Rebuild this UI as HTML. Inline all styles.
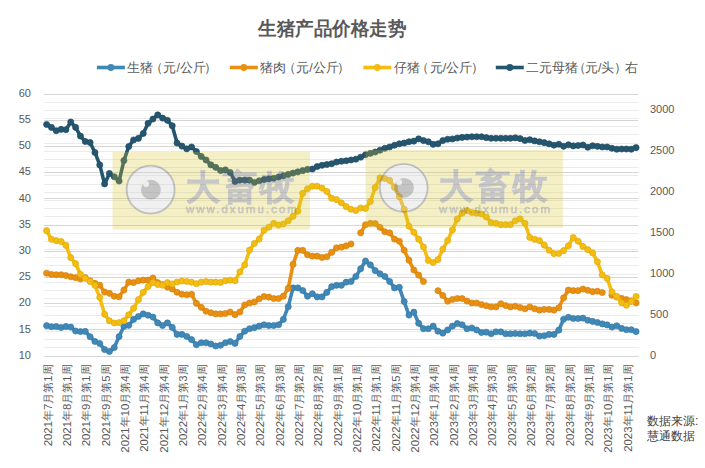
<!DOCTYPE html>
<html><head><meta charset="utf-8"><style>
html,body{margin:0;padding:0;background:#fff;width:705px;height:468px;overflow:hidden;position:relative}
svg text{font-family:"Liberation Sans", sans-serif}
</style></head><body>
<svg width="705" height="468" viewBox="0 0 705 468" style="position:absolute;left:0;top:0"><line x1="44.2" x2="638.5" y1="356.50" y2="356.50" stroke="#ebebeb" stroke-width="1"/><line x1="44.2" x2="638.5" y1="347.50" y2="347.50" stroke="#ebebeb" stroke-width="1"/><line x1="44.2" x2="638.5" y1="339.50" y2="339.50" stroke="#ebebeb" stroke-width="1"/><line x1="44.2" x2="638.5" y1="331.50" y2="331.50" stroke="#ebebeb" stroke-width="1"/><line x1="44.2" x2="638.5" y1="323.50" y2="323.50" stroke="#ebebeb" stroke-width="1"/><line x1="44.2" x2="638.5" y1="315.50" y2="315.50" stroke="#ebebeb" stroke-width="1"/><line x1="44.2" x2="638.5" y1="306.50" y2="306.50" stroke="#ebebeb" stroke-width="1"/><line x1="44.2" x2="638.5" y1="298.50" y2="298.50" stroke="#ebebeb" stroke-width="1"/><line x1="44.2" x2="638.5" y1="290.50" y2="290.50" stroke="#ebebeb" stroke-width="1"/><line x1="44.2" x2="638.5" y1="282.50" y2="282.50" stroke="#ebebeb" stroke-width="1"/><line x1="44.2" x2="638.5" y1="274.50" y2="274.50" stroke="#ebebeb" stroke-width="1"/><line x1="44.2" x2="638.5" y1="265.50" y2="265.50" stroke="#ebebeb" stroke-width="1"/><line x1="44.2" x2="638.5" y1="257.50" y2="257.50" stroke="#ebebeb" stroke-width="1"/><line x1="44.2" x2="638.5" y1="249.50" y2="249.50" stroke="#ebebeb" stroke-width="1"/><line x1="44.2" x2="638.5" y1="241.50" y2="241.50" stroke="#ebebeb" stroke-width="1"/><line x1="44.2" x2="638.5" y1="233.50" y2="233.50" stroke="#ebebeb" stroke-width="1"/><line x1="44.2" x2="638.5" y1="225.50" y2="225.50" stroke="#ebebeb" stroke-width="1"/><line x1="44.2" x2="638.5" y1="216.50" y2="216.50" stroke="#ebebeb" stroke-width="1"/><line x1="44.2" x2="638.5" y1="208.50" y2="208.50" stroke="#ebebeb" stroke-width="1"/><line x1="44.2" x2="638.5" y1="200.50" y2="200.50" stroke="#ebebeb" stroke-width="1"/><line x1="44.2" x2="638.5" y1="192.50" y2="192.50" stroke="#ebebeb" stroke-width="1"/><line x1="44.2" x2="638.5" y1="184.50" y2="184.50" stroke="#ebebeb" stroke-width="1"/><line x1="44.2" x2="638.5" y1="175.50" y2="175.50" stroke="#ebebeb" stroke-width="1"/><line x1="44.2" x2="638.5" y1="167.50" y2="167.50" stroke="#ebebeb" stroke-width="1"/><line x1="44.2" x2="638.5" y1="159.50" y2="159.50" stroke="#ebebeb" stroke-width="1"/><line x1="44.2" x2="638.5" y1="151.50" y2="151.50" stroke="#ebebeb" stroke-width="1"/><line x1="44.2" x2="638.5" y1="143.50" y2="143.50" stroke="#ebebeb" stroke-width="1"/><line x1="44.2" x2="638.5" y1="134.50" y2="134.50" stroke="#ebebeb" stroke-width="1"/><line x1="44.2" x2="638.5" y1="126.50" y2="126.50" stroke="#ebebeb" stroke-width="1"/><line x1="44.2" x2="638.5" y1="118.50" y2="118.50" stroke="#ebebeb" stroke-width="1"/><line x1="44.2" x2="638.5" y1="110.50" y2="110.50" stroke="#ebebeb" stroke-width="1"/><line x1="44.2" x2="638.5" y1="102.50" y2="102.50" stroke="#ebebeb" stroke-width="1"/><line x1="44.2" x2="638.5" y1="94.50" y2="94.50" stroke="#ebebeb" stroke-width="1"/><line x1="44.2" x2="638.5" y1="356.50" y2="356.50" stroke="#d6d6d6" stroke-width="1"/><line x1="44.2" x2="638.5" y1="329.50" y2="329.50" stroke="#d6d6d6" stroke-width="1"/><line x1="44.2" x2="638.5" y1="303.50" y2="303.50" stroke="#d6d6d6" stroke-width="1"/><line x1="44.2" x2="638.5" y1="277.50" y2="277.50" stroke="#d6d6d6" stroke-width="1"/><line x1="44.2" x2="638.5" y1="251.50" y2="251.50" stroke="#d6d6d6" stroke-width="1"/><line x1="44.2" x2="638.5" y1="225.50" y2="225.50" stroke="#d6d6d6" stroke-width="1"/><line x1="44.2" x2="638.5" y1="198.50" y2="198.50" stroke="#d6d6d6" stroke-width="1"/><line x1="44.2" x2="638.5" y1="172.50" y2="172.50" stroke="#d6d6d6" stroke-width="1"/><line x1="44.2" x2="638.5" y1="146.50" y2="146.50" stroke="#d6d6d6" stroke-width="1"/><line x1="44.2" x2="638.5" y1="120.50" y2="120.50" stroke="#d6d6d6" stroke-width="1"/><line x1="44.2" x2="638.5" y1="94.50" y2="94.50" stroke="#d6d6d6" stroke-width="1"/><text x="31" y="358.80" text-anchor="end" font-size="11" fill="#595959">10</text><text x="31" y="332.60" text-anchor="end" font-size="11" fill="#595959">15</text><text x="31" y="306.40" text-anchor="end" font-size="11" fill="#595959">20</text><text x="31" y="280.20" text-anchor="end" font-size="11" fill="#595959">25</text><text x="31" y="254.00" text-anchor="end" font-size="11" fill="#595959">30</text><text x="31" y="227.80" text-anchor="end" font-size="11" fill="#595959">35</text><text x="31" y="201.60" text-anchor="end" font-size="11" fill="#595959">40</text><text x="31" y="175.40" text-anchor="end" font-size="11" fill="#595959">45</text><text x="31" y="149.20" text-anchor="end" font-size="11" fill="#595959">50</text><text x="31" y="123.00" text-anchor="end" font-size="11" fill="#595959">55</text><text x="31" y="96.80" text-anchor="end" font-size="11" fill="#595959">60</text><text x="650" y="358.80" text-anchor="start" font-size="11" fill="#595959">0</text><text x="650" y="317.86" text-anchor="start" font-size="11" fill="#595959">500</text><text x="650" y="276.93" text-anchor="start" font-size="11" fill="#595959">1000</text><text x="650" y="235.99" text-anchor="start" font-size="11" fill="#595959">1500</text><text x="650" y="195.05" text-anchor="start" font-size="11" fill="#595959">2000</text><text x="650" y="154.11" text-anchor="start" font-size="11" fill="#595959">2500</text><text x="650" y="113.17" text-anchor="start" font-size="11" fill="#595959">3000</text><text transform="translate(51.82,364.3) rotate(-90)" x="0" y="0" text-anchor="end" font-size="11.4" fill="#595959">2021年7月第1周</text><text transform="translate(71.14,364.3) rotate(-90)" x="0" y="0" text-anchor="end" font-size="11.4" fill="#595959">2021年8月第1周</text><text transform="translate(90.47,364.3) rotate(-90)" x="0" y="0" text-anchor="end" font-size="11.4" fill="#595959">2021年9月第1周</text><text transform="translate(109.80,364.3) rotate(-90)" x="0" y="0" text-anchor="end" font-size="11.4" fill="#595959">2021年9月第5周</text><text transform="translate(129.12,364.3) rotate(-90)" x="0" y="0" text-anchor="end" font-size="11.4" fill="#595959">2021年10月第4周</text><text transform="translate(148.45,364.3) rotate(-90)" x="0" y="0" text-anchor="end" font-size="11.4" fill="#595959">2021年11月第4周</text><text transform="translate(167.78,364.3) rotate(-90)" x="0" y="0" text-anchor="end" font-size="11.4" fill="#595959">2021年12月第4周</text><text transform="translate(187.10,364.3) rotate(-90)" x="0" y="0" text-anchor="end" font-size="11.4" fill="#595959">2022年1月第3周</text><text transform="translate(206.43,364.3) rotate(-90)" x="0" y="0" text-anchor="end" font-size="11.4" fill="#595959">2022年2月第4周</text><text transform="translate(225.76,364.3) rotate(-90)" x="0" y="0" text-anchor="end" font-size="11.4" fill="#595959">2022年3月第4周</text><text transform="translate(245.08,364.3) rotate(-90)" x="0" y="0" text-anchor="end" font-size="11.4" fill="#595959">2022年4月第3周</text><text transform="translate(264.41,364.3) rotate(-90)" x="0" y="0" text-anchor="end" font-size="11.4" fill="#595959">2022年5月第3周</text><text transform="translate(283.74,364.3) rotate(-90)" x="0" y="0" text-anchor="end" font-size="11.4" fill="#595959">2022年6月第3周</text><text transform="translate(303.06,364.3) rotate(-90)" x="0" y="0" text-anchor="end" font-size="11.4" fill="#595959">2022年7月第2周</text><text transform="translate(322.39,364.3) rotate(-90)" x="0" y="0" text-anchor="end" font-size="11.4" fill="#595959">2022年8月第2周</text><text transform="translate(341.72,364.3) rotate(-90)" x="0" y="0" text-anchor="end" font-size="11.4" fill="#595959">2022年9月第1周</text><text transform="translate(361.05,364.3) rotate(-90)" x="0" y="0" text-anchor="end" font-size="11.4" fill="#595959">2022年10月第1周</text><text transform="translate(380.37,364.3) rotate(-90)" x="0" y="0" text-anchor="end" font-size="11.4" fill="#595959">2022年11月第1周</text><text transform="translate(399.70,364.3) rotate(-90)" x="0" y="0" text-anchor="end" font-size="11.4" fill="#595959">2022年11月第5周</text><text transform="translate(419.03,364.3) rotate(-90)" x="0" y="0" text-anchor="end" font-size="11.4" fill="#595959">2022年12月第4周</text><text transform="translate(438.35,364.3) rotate(-90)" x="0" y="0" text-anchor="end" font-size="11.4" fill="#595959">2023年1月第4周</text><text transform="translate(457.68,364.3) rotate(-90)" x="0" y="0" text-anchor="end" font-size="11.4" fill="#595959">2023年2月第4周</text><text transform="translate(477.01,364.3) rotate(-90)" x="0" y="0" text-anchor="end" font-size="11.4" fill="#595959">2023年3月第4周</text><text transform="translate(496.33,364.3) rotate(-90)" x="0" y="0" text-anchor="end" font-size="11.4" fill="#595959">2023年4月第3周</text><text transform="translate(515.66,364.3) rotate(-90)" x="0" y="0" text-anchor="end" font-size="11.4" fill="#595959">2023年5月第3周</text><text transform="translate(534.99,364.3) rotate(-90)" x="0" y="0" text-anchor="end" font-size="11.4" fill="#595959">2023年6月第2周</text><text transform="translate(554.31,364.3) rotate(-90)" x="0" y="0" text-anchor="end" font-size="11.4" fill="#595959">2023年7月第2周</text><text transform="translate(573.64,364.3) rotate(-90)" x="0" y="0" text-anchor="end" font-size="11.4" fill="#595959">2023年8月第2周</text><text transform="translate(592.97,364.3) rotate(-90)" x="0" y="0" text-anchor="end" font-size="11.4" fill="#595959">2023年9月第1周</text><text transform="translate(612.29,364.3) rotate(-90)" x="0" y="0" text-anchor="end" font-size="11.4" fill="#595959">2023年10月第1周</text><text transform="translate(631.62,364.3) rotate(-90)" x="0" y="0" text-anchor="end" font-size="11.4" fill="#595959">2023年11月第1周</text><polyline points="46.62,325.64 51.45,326.74 56.28,326.53 61.11,327.52 65.94,326.53 70.77,327.10 75.61,331.03 80.44,331.61 85.27,331.40 90.10,336.69 94.93,341.46 99.76,343.50 104.60,349.58 109.43,351.52 114.26,347.59 119.09,336.59 123.92,326.37 128.75,325.37 133.59,319.40 138.42,316.52 143.25,313.90 148.08,315.21 152.91,317.10 157.75,322.91 162.58,325.53 167.41,322.91 172.24,327.42 177.07,334.39 181.90,334.39 186.74,336.43 191.57,339.63 196.40,344.71 201.23,342.82 206.06,342.82 210.89,344.03 215.73,346.02 220.56,345.29 225.39,342.82 230.22,341.51 235.05,343.40 239.88,336.43 244.72,331.19 249.55,328.73 254.38,327.63 259.21,326.11 264.04,324.80 268.87,325.53 273.71,325.53 278.54,324.80 283.37,319.40 288.20,306.72 293.03,287.91 297.86,287.91 302.70,290.53 307.53,296.24 312.36,293.72 317.19,296.92 322.02,296.92 326.85,292.41 331.69,286.65 336.52,285.34 341.35,285.34 346.18,282.14 351.01,281.52 355.85,276.43 360.68,268.73 365.51,261.03 370.34,264.85 375.17,270.62 380.00,273.81 384.84,276.43 389.67,281.52 394.50,287.91 399.33,287.33 404.16,301.58 408.99,315.10 413.83,312.17 418.66,323.33 423.49,328.73 428.32,328.73 433.15,326.11 437.98,331.19 442.82,333.13 447.65,329.93 452.48,326.11 457.31,323.49 462.14,324.80 466.97,328.73 471.81,327.99 476.64,329.93 481.47,332.50 486.30,332.19 491.13,333.81 495.96,331.87 500.80,331.87 505.63,333.81 510.46,333.81 515.29,333.50 520.12,333.81 524.95,333.81 529.79,333.13 534.62,333.50 539.45,336.06 544.28,335.70 549.11,334.39 553.95,334.39 558.78,330.14 563.61,319.30 568.44,317.30 573.27,318.51 578.10,318.51 582.94,318.14 587.77,320.29 592.60,321.39 597.43,322.44 602.26,323.91 607.09,324.90 611.93,327.10 616.76,325.79 621.59,328.41 626.42,329.72 631.25,329.72 636.08,331.61" fill="none" stroke="#3f88b8" stroke-width="3.6" stroke-linejoin="round" stroke-linecap="round"/><circle cx="46.62" cy="325.64" r="3.05" fill="#3f88b8" stroke="#387aa5" stroke-width="0.7"/><circle cx="51.45" cy="326.74" r="3.05" fill="#3f88b8" stroke="#387aa5" stroke-width="0.7"/><circle cx="56.28" cy="326.53" r="3.05" fill="#3f88b8" stroke="#387aa5" stroke-width="0.7"/><circle cx="61.11" cy="327.52" r="3.05" fill="#3f88b8" stroke="#387aa5" stroke-width="0.7"/><circle cx="65.94" cy="326.53" r="3.05" fill="#3f88b8" stroke="#387aa5" stroke-width="0.7"/><circle cx="70.77" cy="327.10" r="3.05" fill="#3f88b8" stroke="#387aa5" stroke-width="0.7"/><circle cx="75.61" cy="331.03" r="3.05" fill="#3f88b8" stroke="#387aa5" stroke-width="0.7"/><circle cx="80.44" cy="331.61" r="3.05" fill="#3f88b8" stroke="#387aa5" stroke-width="0.7"/><circle cx="85.27" cy="331.40" r="3.05" fill="#3f88b8" stroke="#387aa5" stroke-width="0.7"/><circle cx="90.10" cy="336.69" r="3.05" fill="#3f88b8" stroke="#387aa5" stroke-width="0.7"/><circle cx="94.93" cy="341.46" r="3.05" fill="#3f88b8" stroke="#387aa5" stroke-width="0.7"/><circle cx="99.76" cy="343.50" r="3.05" fill="#3f88b8" stroke="#387aa5" stroke-width="0.7"/><circle cx="104.60" cy="349.58" r="3.05" fill="#3f88b8" stroke="#387aa5" stroke-width="0.7"/><circle cx="109.43" cy="351.52" r="3.05" fill="#3f88b8" stroke="#387aa5" stroke-width="0.7"/><circle cx="114.26" cy="347.59" r="3.05" fill="#3f88b8" stroke="#387aa5" stroke-width="0.7"/><circle cx="119.09" cy="336.59" r="3.05" fill="#3f88b8" stroke="#387aa5" stroke-width="0.7"/><circle cx="123.92" cy="326.37" r="3.05" fill="#3f88b8" stroke="#387aa5" stroke-width="0.7"/><circle cx="128.75" cy="325.37" r="3.05" fill="#3f88b8" stroke="#387aa5" stroke-width="0.7"/><circle cx="133.59" cy="319.40" r="3.05" fill="#3f88b8" stroke="#387aa5" stroke-width="0.7"/><circle cx="138.42" cy="316.52" r="3.05" fill="#3f88b8" stroke="#387aa5" stroke-width="0.7"/><circle cx="143.25" cy="313.90" r="3.05" fill="#3f88b8" stroke="#387aa5" stroke-width="0.7"/><circle cx="148.08" cy="315.21" r="3.05" fill="#3f88b8" stroke="#387aa5" stroke-width="0.7"/><circle cx="152.91" cy="317.10" r="3.05" fill="#3f88b8" stroke="#387aa5" stroke-width="0.7"/><circle cx="157.75" cy="322.91" r="3.05" fill="#3f88b8" stroke="#387aa5" stroke-width="0.7"/><circle cx="162.58" cy="325.53" r="3.05" fill="#3f88b8" stroke="#387aa5" stroke-width="0.7"/><circle cx="167.41" cy="322.91" r="3.05" fill="#3f88b8" stroke="#387aa5" stroke-width="0.7"/><circle cx="172.24" cy="327.42" r="3.05" fill="#3f88b8" stroke="#387aa5" stroke-width="0.7"/><circle cx="177.07" cy="334.39" r="3.05" fill="#3f88b8" stroke="#387aa5" stroke-width="0.7"/><circle cx="181.90" cy="334.39" r="3.05" fill="#3f88b8" stroke="#387aa5" stroke-width="0.7"/><circle cx="186.74" cy="336.43" r="3.05" fill="#3f88b8" stroke="#387aa5" stroke-width="0.7"/><circle cx="191.57" cy="339.63" r="3.05" fill="#3f88b8" stroke="#387aa5" stroke-width="0.7"/><circle cx="196.40" cy="344.71" r="3.05" fill="#3f88b8" stroke="#387aa5" stroke-width="0.7"/><circle cx="201.23" cy="342.82" r="3.05" fill="#3f88b8" stroke="#387aa5" stroke-width="0.7"/><circle cx="206.06" cy="342.82" r="3.05" fill="#3f88b8" stroke="#387aa5" stroke-width="0.7"/><circle cx="210.89" cy="344.03" r="3.05" fill="#3f88b8" stroke="#387aa5" stroke-width="0.7"/><circle cx="215.73" cy="346.02" r="3.05" fill="#3f88b8" stroke="#387aa5" stroke-width="0.7"/><circle cx="220.56" cy="345.29" r="3.05" fill="#3f88b8" stroke="#387aa5" stroke-width="0.7"/><circle cx="225.39" cy="342.82" r="3.05" fill="#3f88b8" stroke="#387aa5" stroke-width="0.7"/><circle cx="230.22" cy="341.51" r="3.05" fill="#3f88b8" stroke="#387aa5" stroke-width="0.7"/><circle cx="235.05" cy="343.40" r="3.05" fill="#3f88b8" stroke="#387aa5" stroke-width="0.7"/><circle cx="239.88" cy="336.43" r="3.05" fill="#3f88b8" stroke="#387aa5" stroke-width="0.7"/><circle cx="244.72" cy="331.19" r="3.05" fill="#3f88b8" stroke="#387aa5" stroke-width="0.7"/><circle cx="249.55" cy="328.73" r="3.05" fill="#3f88b8" stroke="#387aa5" stroke-width="0.7"/><circle cx="254.38" cy="327.63" r="3.05" fill="#3f88b8" stroke="#387aa5" stroke-width="0.7"/><circle cx="259.21" cy="326.11" r="3.05" fill="#3f88b8" stroke="#387aa5" stroke-width="0.7"/><circle cx="264.04" cy="324.80" r="3.05" fill="#3f88b8" stroke="#387aa5" stroke-width="0.7"/><circle cx="268.87" cy="325.53" r="3.05" fill="#3f88b8" stroke="#387aa5" stroke-width="0.7"/><circle cx="273.71" cy="325.53" r="3.05" fill="#3f88b8" stroke="#387aa5" stroke-width="0.7"/><circle cx="278.54" cy="324.80" r="3.05" fill="#3f88b8" stroke="#387aa5" stroke-width="0.7"/><circle cx="283.37" cy="319.40" r="3.05" fill="#3f88b8" stroke="#387aa5" stroke-width="0.7"/><circle cx="288.20" cy="306.72" r="3.05" fill="#3f88b8" stroke="#387aa5" stroke-width="0.7"/><circle cx="293.03" cy="287.91" r="3.05" fill="#3f88b8" stroke="#387aa5" stroke-width="0.7"/><circle cx="297.86" cy="287.91" r="3.05" fill="#3f88b8" stroke="#387aa5" stroke-width="0.7"/><circle cx="302.70" cy="290.53" r="3.05" fill="#3f88b8" stroke="#387aa5" stroke-width="0.7"/><circle cx="307.53" cy="296.24" r="3.05" fill="#3f88b8" stroke="#387aa5" stroke-width="0.7"/><circle cx="312.36" cy="293.72" r="3.05" fill="#3f88b8" stroke="#387aa5" stroke-width="0.7"/><circle cx="317.19" cy="296.92" r="3.05" fill="#3f88b8" stroke="#387aa5" stroke-width="0.7"/><circle cx="322.02" cy="296.92" r="3.05" fill="#3f88b8" stroke="#387aa5" stroke-width="0.7"/><circle cx="326.85" cy="292.41" r="3.05" fill="#3f88b8" stroke="#387aa5" stroke-width="0.7"/><circle cx="331.69" cy="286.65" r="3.05" fill="#3f88b8" stroke="#387aa5" stroke-width="0.7"/><circle cx="336.52" cy="285.34" r="3.05" fill="#3f88b8" stroke="#387aa5" stroke-width="0.7"/><circle cx="341.35" cy="285.34" r="3.05" fill="#3f88b8" stroke="#387aa5" stroke-width="0.7"/><circle cx="346.18" cy="282.14" r="3.05" fill="#3f88b8" stroke="#387aa5" stroke-width="0.7"/><circle cx="351.01" cy="281.52" r="3.05" fill="#3f88b8" stroke="#387aa5" stroke-width="0.7"/><circle cx="355.85" cy="276.43" r="3.05" fill="#3f88b8" stroke="#387aa5" stroke-width="0.7"/><circle cx="360.68" cy="268.73" r="3.05" fill="#3f88b8" stroke="#387aa5" stroke-width="0.7"/><circle cx="365.51" cy="261.03" r="3.05" fill="#3f88b8" stroke="#387aa5" stroke-width="0.7"/><circle cx="370.34" cy="264.85" r="3.05" fill="#3f88b8" stroke="#387aa5" stroke-width="0.7"/><circle cx="375.17" cy="270.62" r="3.05" fill="#3f88b8" stroke="#387aa5" stroke-width="0.7"/><circle cx="380.00" cy="273.81" r="3.05" fill="#3f88b8" stroke="#387aa5" stroke-width="0.7"/><circle cx="384.84" cy="276.43" r="3.05" fill="#3f88b8" stroke="#387aa5" stroke-width="0.7"/><circle cx="389.67" cy="281.52" r="3.05" fill="#3f88b8" stroke="#387aa5" stroke-width="0.7"/><circle cx="394.50" cy="287.91" r="3.05" fill="#3f88b8" stroke="#387aa5" stroke-width="0.7"/><circle cx="399.33" cy="287.33" r="3.05" fill="#3f88b8" stroke="#387aa5" stroke-width="0.7"/><circle cx="404.16" cy="301.58" r="3.05" fill="#3f88b8" stroke="#387aa5" stroke-width="0.7"/><circle cx="408.99" cy="315.10" r="3.05" fill="#3f88b8" stroke="#387aa5" stroke-width="0.7"/><circle cx="413.83" cy="312.17" r="3.05" fill="#3f88b8" stroke="#387aa5" stroke-width="0.7"/><circle cx="418.66" cy="323.33" r="3.05" fill="#3f88b8" stroke="#387aa5" stroke-width="0.7"/><circle cx="423.49" cy="328.73" r="3.05" fill="#3f88b8" stroke="#387aa5" stroke-width="0.7"/><circle cx="428.32" cy="328.73" r="3.05" fill="#3f88b8" stroke="#387aa5" stroke-width="0.7"/><circle cx="433.15" cy="326.11" r="3.05" fill="#3f88b8" stroke="#387aa5" stroke-width="0.7"/><circle cx="437.98" cy="331.19" r="3.05" fill="#3f88b8" stroke="#387aa5" stroke-width="0.7"/><circle cx="442.82" cy="333.13" r="3.05" fill="#3f88b8" stroke="#387aa5" stroke-width="0.7"/><circle cx="447.65" cy="329.93" r="3.05" fill="#3f88b8" stroke="#387aa5" stroke-width="0.7"/><circle cx="452.48" cy="326.11" r="3.05" fill="#3f88b8" stroke="#387aa5" stroke-width="0.7"/><circle cx="457.31" cy="323.49" r="3.05" fill="#3f88b8" stroke="#387aa5" stroke-width="0.7"/><circle cx="462.14" cy="324.80" r="3.05" fill="#3f88b8" stroke="#387aa5" stroke-width="0.7"/><circle cx="466.97" cy="328.73" r="3.05" fill="#3f88b8" stroke="#387aa5" stroke-width="0.7"/><circle cx="471.81" cy="327.99" r="3.05" fill="#3f88b8" stroke="#387aa5" stroke-width="0.7"/><circle cx="476.64" cy="329.93" r="3.05" fill="#3f88b8" stroke="#387aa5" stroke-width="0.7"/><circle cx="481.47" cy="332.50" r="3.05" fill="#3f88b8" stroke="#387aa5" stroke-width="0.7"/><circle cx="486.30" cy="332.19" r="3.05" fill="#3f88b8" stroke="#387aa5" stroke-width="0.7"/><circle cx="491.13" cy="333.81" r="3.05" fill="#3f88b8" stroke="#387aa5" stroke-width="0.7"/><circle cx="495.96" cy="331.87" r="3.05" fill="#3f88b8" stroke="#387aa5" stroke-width="0.7"/><circle cx="500.80" cy="331.87" r="3.05" fill="#3f88b8" stroke="#387aa5" stroke-width="0.7"/><circle cx="505.63" cy="333.81" r="3.05" fill="#3f88b8" stroke="#387aa5" stroke-width="0.7"/><circle cx="510.46" cy="333.81" r="3.05" fill="#3f88b8" stroke="#387aa5" stroke-width="0.7"/><circle cx="515.29" cy="333.50" r="3.05" fill="#3f88b8" stroke="#387aa5" stroke-width="0.7"/><circle cx="520.12" cy="333.81" r="3.05" fill="#3f88b8" stroke="#387aa5" stroke-width="0.7"/><circle cx="524.95" cy="333.81" r="3.05" fill="#3f88b8" stroke="#387aa5" stroke-width="0.7"/><circle cx="529.79" cy="333.13" r="3.05" fill="#3f88b8" stroke="#387aa5" stroke-width="0.7"/><circle cx="534.62" cy="333.50" r="3.05" fill="#3f88b8" stroke="#387aa5" stroke-width="0.7"/><circle cx="539.45" cy="336.06" r="3.05" fill="#3f88b8" stroke="#387aa5" stroke-width="0.7"/><circle cx="544.28" cy="335.70" r="3.05" fill="#3f88b8" stroke="#387aa5" stroke-width="0.7"/><circle cx="549.11" cy="334.39" r="3.05" fill="#3f88b8" stroke="#387aa5" stroke-width="0.7"/><circle cx="553.95" cy="334.39" r="3.05" fill="#3f88b8" stroke="#387aa5" stroke-width="0.7"/><circle cx="558.78" cy="330.14" r="3.05" fill="#3f88b8" stroke="#387aa5" stroke-width="0.7"/><circle cx="563.61" cy="319.30" r="3.05" fill="#3f88b8" stroke="#387aa5" stroke-width="0.7"/><circle cx="568.44" cy="317.30" r="3.05" fill="#3f88b8" stroke="#387aa5" stroke-width="0.7"/><circle cx="573.27" cy="318.51" r="3.05" fill="#3f88b8" stroke="#387aa5" stroke-width="0.7"/><circle cx="578.10" cy="318.51" r="3.05" fill="#3f88b8" stroke="#387aa5" stroke-width="0.7"/><circle cx="582.94" cy="318.14" r="3.05" fill="#3f88b8" stroke="#387aa5" stroke-width="0.7"/><circle cx="587.77" cy="320.29" r="3.05" fill="#3f88b8" stroke="#387aa5" stroke-width="0.7"/><circle cx="592.60" cy="321.39" r="3.05" fill="#3f88b8" stroke="#387aa5" stroke-width="0.7"/><circle cx="597.43" cy="322.44" r="3.05" fill="#3f88b8" stroke="#387aa5" stroke-width="0.7"/><circle cx="602.26" cy="323.91" r="3.05" fill="#3f88b8" stroke="#387aa5" stroke-width="0.7"/><circle cx="607.09" cy="324.90" r="3.05" fill="#3f88b8" stroke="#387aa5" stroke-width="0.7"/><circle cx="611.93" cy="327.10" r="3.05" fill="#3f88b8" stroke="#387aa5" stroke-width="0.7"/><circle cx="616.76" cy="325.79" r="3.05" fill="#3f88b8" stroke="#387aa5" stroke-width="0.7"/><circle cx="621.59" cy="328.41" r="3.05" fill="#3f88b8" stroke="#387aa5" stroke-width="0.7"/><circle cx="626.42" cy="329.72" r="3.05" fill="#3f88b8" stroke="#387aa5" stroke-width="0.7"/><circle cx="631.25" cy="329.72" r="3.05" fill="#3f88b8" stroke="#387aa5" stroke-width="0.7"/><circle cx="636.08" cy="331.61" r="3.05" fill="#3f88b8" stroke="#387aa5" stroke-width="0.7"/><polyline points="46.62,273.24 51.45,274.44 56.28,274.76 61.11,274.76 65.94,275.54 70.77,276.75 75.61,277.64 80.44,278.95 85.27,277.64 90.10,280.83 94.93,283.40 99.76,285.24 104.60,292.05 109.43,293.36 114.26,296.24 119.09,296.76 123.92,290.06 128.75,282.09 133.59,282.62 138.42,280.73 143.25,280.15 148.08,280.15 152.91,278.11 157.75,282.62 162.58,284.61 167.41,287.12 172.24,289.01 177.07,292.31 181.90,294.25 186.74,294.72 191.57,294.30 196.40,303.31 201.23,307.35 206.06,311.23 210.89,312.75 215.73,313.90 220.56,313.90 225.39,313.53 230.22,312.01 235.05,314.63 239.88,312.01 244.72,304.94 249.55,303.00 254.38,302.00 259.21,298.86 264.04,296.50 268.87,297.13 273.71,298.55 278.54,298.55 283.37,296.14 288.20,288.38 293.03,264.38 297.86,250.34 302.70,250.34 307.53,254.84 312.36,256.15 317.19,256.15 322.02,257.46 326.85,256.73 331.69,252.33 336.52,247.82 341.35,247.14 346.18,245.83 351.01,243.94" fill="none" stroke="#ea9010" stroke-width="3.6" stroke-linejoin="round" stroke-linecap="round"/><circle cx="46.62" cy="273.24" r="3.05" fill="#ea9010" stroke="#d2810e" stroke-width="0.7"/><circle cx="51.45" cy="274.44" r="3.05" fill="#ea9010" stroke="#d2810e" stroke-width="0.7"/><circle cx="56.28" cy="274.76" r="3.05" fill="#ea9010" stroke="#d2810e" stroke-width="0.7"/><circle cx="61.11" cy="274.76" r="3.05" fill="#ea9010" stroke="#d2810e" stroke-width="0.7"/><circle cx="65.94" cy="275.54" r="3.05" fill="#ea9010" stroke="#d2810e" stroke-width="0.7"/><circle cx="70.77" cy="276.75" r="3.05" fill="#ea9010" stroke="#d2810e" stroke-width="0.7"/><circle cx="75.61" cy="277.64" r="3.05" fill="#ea9010" stroke="#d2810e" stroke-width="0.7"/><circle cx="80.44" cy="278.95" r="3.05" fill="#ea9010" stroke="#d2810e" stroke-width="0.7"/><circle cx="85.27" cy="277.64" r="3.05" fill="#ea9010" stroke="#d2810e" stroke-width="0.7"/><circle cx="90.10" cy="280.83" r="3.05" fill="#ea9010" stroke="#d2810e" stroke-width="0.7"/><circle cx="94.93" cy="283.40" r="3.05" fill="#ea9010" stroke="#d2810e" stroke-width="0.7"/><circle cx="99.76" cy="285.24" r="3.05" fill="#ea9010" stroke="#d2810e" stroke-width="0.7"/><circle cx="104.60" cy="292.05" r="3.05" fill="#ea9010" stroke="#d2810e" stroke-width="0.7"/><circle cx="109.43" cy="293.36" r="3.05" fill="#ea9010" stroke="#d2810e" stroke-width="0.7"/><circle cx="114.26" cy="296.24" r="3.05" fill="#ea9010" stroke="#d2810e" stroke-width="0.7"/><circle cx="119.09" cy="296.76" r="3.05" fill="#ea9010" stroke="#d2810e" stroke-width="0.7"/><circle cx="123.92" cy="290.06" r="3.05" fill="#ea9010" stroke="#d2810e" stroke-width="0.7"/><circle cx="128.75" cy="282.09" r="3.05" fill="#ea9010" stroke="#d2810e" stroke-width="0.7"/><circle cx="133.59" cy="282.62" r="3.05" fill="#ea9010" stroke="#d2810e" stroke-width="0.7"/><circle cx="138.42" cy="280.73" r="3.05" fill="#ea9010" stroke="#d2810e" stroke-width="0.7"/><circle cx="143.25" cy="280.15" r="3.05" fill="#ea9010" stroke="#d2810e" stroke-width="0.7"/><circle cx="148.08" cy="280.15" r="3.05" fill="#ea9010" stroke="#d2810e" stroke-width="0.7"/><circle cx="152.91" cy="278.11" r="3.05" fill="#ea9010" stroke="#d2810e" stroke-width="0.7"/><circle cx="157.75" cy="282.62" r="3.05" fill="#ea9010" stroke="#d2810e" stroke-width="0.7"/><circle cx="162.58" cy="284.61" r="3.05" fill="#ea9010" stroke="#d2810e" stroke-width="0.7"/><circle cx="167.41" cy="287.12" r="3.05" fill="#ea9010" stroke="#d2810e" stroke-width="0.7"/><circle cx="172.24" cy="289.01" r="3.05" fill="#ea9010" stroke="#d2810e" stroke-width="0.7"/><circle cx="177.07" cy="292.31" r="3.05" fill="#ea9010" stroke="#d2810e" stroke-width="0.7"/><circle cx="181.90" cy="294.25" r="3.05" fill="#ea9010" stroke="#d2810e" stroke-width="0.7"/><circle cx="186.74" cy="294.72" r="3.05" fill="#ea9010" stroke="#d2810e" stroke-width="0.7"/><circle cx="191.57" cy="294.30" r="3.05" fill="#ea9010" stroke="#d2810e" stroke-width="0.7"/><circle cx="196.40" cy="303.31" r="3.05" fill="#ea9010" stroke="#d2810e" stroke-width="0.7"/><circle cx="201.23" cy="307.35" r="3.05" fill="#ea9010" stroke="#d2810e" stroke-width="0.7"/><circle cx="206.06" cy="311.23" r="3.05" fill="#ea9010" stroke="#d2810e" stroke-width="0.7"/><circle cx="210.89" cy="312.75" r="3.05" fill="#ea9010" stroke="#d2810e" stroke-width="0.7"/><circle cx="215.73" cy="313.90" r="3.05" fill="#ea9010" stroke="#d2810e" stroke-width="0.7"/><circle cx="220.56" cy="313.90" r="3.05" fill="#ea9010" stroke="#d2810e" stroke-width="0.7"/><circle cx="225.39" cy="313.53" r="3.05" fill="#ea9010" stroke="#d2810e" stroke-width="0.7"/><circle cx="230.22" cy="312.01" r="3.05" fill="#ea9010" stroke="#d2810e" stroke-width="0.7"/><circle cx="235.05" cy="314.63" r="3.05" fill="#ea9010" stroke="#d2810e" stroke-width="0.7"/><circle cx="239.88" cy="312.01" r="3.05" fill="#ea9010" stroke="#d2810e" stroke-width="0.7"/><circle cx="244.72" cy="304.94" r="3.05" fill="#ea9010" stroke="#d2810e" stroke-width="0.7"/><circle cx="249.55" cy="303.00" r="3.05" fill="#ea9010" stroke="#d2810e" stroke-width="0.7"/><circle cx="254.38" cy="302.00" r="3.05" fill="#ea9010" stroke="#d2810e" stroke-width="0.7"/><circle cx="259.21" cy="298.86" r="3.05" fill="#ea9010" stroke="#d2810e" stroke-width="0.7"/><circle cx="264.04" cy="296.50" r="3.05" fill="#ea9010" stroke="#d2810e" stroke-width="0.7"/><circle cx="268.87" cy="297.13" r="3.05" fill="#ea9010" stroke="#d2810e" stroke-width="0.7"/><circle cx="273.71" cy="298.55" r="3.05" fill="#ea9010" stroke="#d2810e" stroke-width="0.7"/><circle cx="278.54" cy="298.55" r="3.05" fill="#ea9010" stroke="#d2810e" stroke-width="0.7"/><circle cx="283.37" cy="296.14" r="3.05" fill="#ea9010" stroke="#d2810e" stroke-width="0.7"/><circle cx="288.20" cy="288.38" r="3.05" fill="#ea9010" stroke="#d2810e" stroke-width="0.7"/><circle cx="293.03" cy="264.38" r="3.05" fill="#ea9010" stroke="#d2810e" stroke-width="0.7"/><circle cx="297.86" cy="250.34" r="3.05" fill="#ea9010" stroke="#d2810e" stroke-width="0.7"/><circle cx="302.70" cy="250.34" r="3.05" fill="#ea9010" stroke="#d2810e" stroke-width="0.7"/><circle cx="307.53" cy="254.84" r="3.05" fill="#ea9010" stroke="#d2810e" stroke-width="0.7"/><circle cx="312.36" cy="256.15" r="3.05" fill="#ea9010" stroke="#d2810e" stroke-width="0.7"/><circle cx="317.19" cy="256.15" r="3.05" fill="#ea9010" stroke="#d2810e" stroke-width="0.7"/><circle cx="322.02" cy="257.46" r="3.05" fill="#ea9010" stroke="#d2810e" stroke-width="0.7"/><circle cx="326.85" cy="256.73" r="3.05" fill="#ea9010" stroke="#d2810e" stroke-width="0.7"/><circle cx="331.69" cy="252.33" r="3.05" fill="#ea9010" stroke="#d2810e" stroke-width="0.7"/><circle cx="336.52" cy="247.82" r="3.05" fill="#ea9010" stroke="#d2810e" stroke-width="0.7"/><circle cx="341.35" cy="247.14" r="3.05" fill="#ea9010" stroke="#d2810e" stroke-width="0.7"/><circle cx="346.18" cy="245.83" r="3.05" fill="#ea9010" stroke="#d2810e" stroke-width="0.7"/><circle cx="351.01" cy="243.94" r="3.05" fill="#ea9010" stroke="#d2810e" stroke-width="0.7"/><polyline points="360.68,232.84 365.51,224.71 370.34,223.40 375.17,223.51 380.00,227.33 384.84,231.79 389.67,232.84 394.50,239.12 399.33,241.32 404.16,250.23 408.99,260.19 413.83,270.04 418.66,275.02 423.49,281.52" fill="none" stroke="#ea9010" stroke-width="3.6" stroke-linejoin="round" stroke-linecap="round"/><circle cx="360.68" cy="232.84" r="3.05" fill="#ea9010" stroke="#d2810e" stroke-width="0.7"/><circle cx="365.51" cy="224.71" r="3.05" fill="#ea9010" stroke="#d2810e" stroke-width="0.7"/><circle cx="370.34" cy="223.40" r="3.05" fill="#ea9010" stroke="#d2810e" stroke-width="0.7"/><circle cx="375.17" cy="223.51" r="3.05" fill="#ea9010" stroke="#d2810e" stroke-width="0.7"/><circle cx="380.00" cy="227.33" r="3.05" fill="#ea9010" stroke="#d2810e" stroke-width="0.7"/><circle cx="384.84" cy="231.79" r="3.05" fill="#ea9010" stroke="#d2810e" stroke-width="0.7"/><circle cx="389.67" cy="232.84" r="3.05" fill="#ea9010" stroke="#d2810e" stroke-width="0.7"/><circle cx="394.50" cy="239.12" r="3.05" fill="#ea9010" stroke="#d2810e" stroke-width="0.7"/><circle cx="399.33" cy="241.32" r="3.05" fill="#ea9010" stroke="#d2810e" stroke-width="0.7"/><circle cx="404.16" cy="250.23" r="3.05" fill="#ea9010" stroke="#d2810e" stroke-width="0.7"/><circle cx="408.99" cy="260.19" r="3.05" fill="#ea9010" stroke="#d2810e" stroke-width="0.7"/><circle cx="413.83" cy="270.04" r="3.05" fill="#ea9010" stroke="#d2810e" stroke-width="0.7"/><circle cx="418.66" cy="275.02" r="3.05" fill="#ea9010" stroke="#d2810e" stroke-width="0.7"/><circle cx="423.49" cy="281.52" r="3.05" fill="#ea9010" stroke="#d2810e" stroke-width="0.7"/><polyline points="437.98,290.69 442.82,295.45 447.65,301.22 452.48,299.44 457.31,298.55 462.14,298.55 466.97,301.11 471.81,303.00 476.64,303.00 481.47,304.62 486.30,305.78 491.13,306.93 495.96,306.93 500.80,303.73 505.63,305.62 510.46,306.93 515.29,306.20 520.12,307.51 524.95,308.82 529.79,306.93 534.62,308.82 539.45,310.13 544.28,309.44 549.11,309.44 553.95,310.13 558.78,307.77 563.61,297.81 568.44,290.06 573.27,290.63 578.10,290.63 582.94,289.01 587.77,290.32 592.60,291.63 597.43,291.26 602.26,292.57" fill="none" stroke="#ea9010" stroke-width="3.6" stroke-linejoin="round" stroke-linecap="round"/><circle cx="437.98" cy="290.69" r="3.05" fill="#ea9010" stroke="#d2810e" stroke-width="0.7"/><circle cx="442.82" cy="295.45" r="3.05" fill="#ea9010" stroke="#d2810e" stroke-width="0.7"/><circle cx="447.65" cy="301.22" r="3.05" fill="#ea9010" stroke="#d2810e" stroke-width="0.7"/><circle cx="452.48" cy="299.44" r="3.05" fill="#ea9010" stroke="#d2810e" stroke-width="0.7"/><circle cx="457.31" cy="298.55" r="3.05" fill="#ea9010" stroke="#d2810e" stroke-width="0.7"/><circle cx="462.14" cy="298.55" r="3.05" fill="#ea9010" stroke="#d2810e" stroke-width="0.7"/><circle cx="466.97" cy="301.11" r="3.05" fill="#ea9010" stroke="#d2810e" stroke-width="0.7"/><circle cx="471.81" cy="303.00" r="3.05" fill="#ea9010" stroke="#d2810e" stroke-width="0.7"/><circle cx="476.64" cy="303.00" r="3.05" fill="#ea9010" stroke="#d2810e" stroke-width="0.7"/><circle cx="481.47" cy="304.62" r="3.05" fill="#ea9010" stroke="#d2810e" stroke-width="0.7"/><circle cx="486.30" cy="305.78" r="3.05" fill="#ea9010" stroke="#d2810e" stroke-width="0.7"/><circle cx="491.13" cy="306.93" r="3.05" fill="#ea9010" stroke="#d2810e" stroke-width="0.7"/><circle cx="495.96" cy="306.93" r="3.05" fill="#ea9010" stroke="#d2810e" stroke-width="0.7"/><circle cx="500.80" cy="303.73" r="3.05" fill="#ea9010" stroke="#d2810e" stroke-width="0.7"/><circle cx="505.63" cy="305.62" r="3.05" fill="#ea9010" stroke="#d2810e" stroke-width="0.7"/><circle cx="510.46" cy="306.93" r="3.05" fill="#ea9010" stroke="#d2810e" stroke-width="0.7"/><circle cx="515.29" cy="306.20" r="3.05" fill="#ea9010" stroke="#d2810e" stroke-width="0.7"/><circle cx="520.12" cy="307.51" r="3.05" fill="#ea9010" stroke="#d2810e" stroke-width="0.7"/><circle cx="524.95" cy="308.82" r="3.05" fill="#ea9010" stroke="#d2810e" stroke-width="0.7"/><circle cx="529.79" cy="306.93" r="3.05" fill="#ea9010" stroke="#d2810e" stroke-width="0.7"/><circle cx="534.62" cy="308.82" r="3.05" fill="#ea9010" stroke="#d2810e" stroke-width="0.7"/><circle cx="539.45" cy="310.13" r="3.05" fill="#ea9010" stroke="#d2810e" stroke-width="0.7"/><circle cx="544.28" cy="309.44" r="3.05" fill="#ea9010" stroke="#d2810e" stroke-width="0.7"/><circle cx="549.11" cy="309.44" r="3.05" fill="#ea9010" stroke="#d2810e" stroke-width="0.7"/><circle cx="553.95" cy="310.13" r="3.05" fill="#ea9010" stroke="#d2810e" stroke-width="0.7"/><circle cx="558.78" cy="307.77" r="3.05" fill="#ea9010" stroke="#d2810e" stroke-width="0.7"/><circle cx="563.61" cy="297.81" r="3.05" fill="#ea9010" stroke="#d2810e" stroke-width="0.7"/><circle cx="568.44" cy="290.06" r="3.05" fill="#ea9010" stroke="#d2810e" stroke-width="0.7"/><circle cx="573.27" cy="290.63" r="3.05" fill="#ea9010" stroke="#d2810e" stroke-width="0.7"/><circle cx="578.10" cy="290.63" r="3.05" fill="#ea9010" stroke="#d2810e" stroke-width="0.7"/><circle cx="582.94" cy="289.01" r="3.05" fill="#ea9010" stroke="#d2810e" stroke-width="0.7"/><circle cx="587.77" cy="290.32" r="3.05" fill="#ea9010" stroke="#d2810e" stroke-width="0.7"/><circle cx="592.60" cy="291.63" r="3.05" fill="#ea9010" stroke="#d2810e" stroke-width="0.7"/><circle cx="597.43" cy="291.26" r="3.05" fill="#ea9010" stroke="#d2810e" stroke-width="0.7"/><circle cx="602.26" cy="292.57" r="3.05" fill="#ea9010" stroke="#d2810e" stroke-width="0.7"/><polyline points="611.93,295.14 616.76,297.03 621.59,298.34 626.42,299.65 631.25,300.80 636.08,302.84" fill="none" stroke="#ea9010" stroke-width="3.6" stroke-linejoin="round" stroke-linecap="round"/><circle cx="611.93" cy="295.14" r="3.05" fill="#ea9010" stroke="#d2810e" stroke-width="0.7"/><circle cx="616.76" cy="297.03" r="3.05" fill="#ea9010" stroke="#d2810e" stroke-width="0.7"/><circle cx="621.59" cy="298.34" r="3.05" fill="#ea9010" stroke="#d2810e" stroke-width="0.7"/><circle cx="626.42" cy="299.65" r="3.05" fill="#ea9010" stroke="#d2810e" stroke-width="0.7"/><circle cx="631.25" cy="300.80" r="3.05" fill="#ea9010" stroke="#d2810e" stroke-width="0.7"/><circle cx="636.08" cy="302.84" r="3.05" fill="#ea9010" stroke="#d2810e" stroke-width="0.7"/><polyline points="46.62,230.64 51.45,239.33 56.28,240.64 61.11,241.53 65.94,245.36 70.77,257.67 75.61,263.65 80.44,274.34 85.27,278.32 90.10,281.52 94.93,285.34 99.76,297.45 104.60,314.27 109.43,320.87 114.26,322.96 119.09,322.65 123.92,320.76 128.75,314.84 133.59,308.29 138.42,299.65 143.25,292.31 148.08,286.55 152.91,282.62 157.75,284.61 162.58,285.24 167.41,282.62 172.24,283.93 177.07,282.04 181.90,281.04 186.74,281.52 191.57,282.14 196.40,283.72 201.23,282.14 206.06,281.52 210.89,282.14 215.73,282.14 220.56,282.41 225.39,280.83 230.22,280.21 235.05,280.83 239.88,271.93 244.72,264.85 249.55,250.13 254.38,243.47 259.21,239.12 264.04,230.32 268.87,227.18 273.71,223.35 278.54,225.08 283.37,223.93 288.20,220.78 293.03,216.28 297.86,211.14 302.70,193.27 307.53,188.77 312.36,186.20 317.19,186.20 322.02,188.09 326.85,191.44 331.69,198.36 336.52,199.67 341.35,202.86 346.18,206.64 351.01,209.26 355.85,210.57 360.68,207.95 365.51,208.57 370.34,201.55 375.17,187.46 380.00,177.87 384.84,178.44 389.67,180.38 394.50,187.46 399.33,196.68 404.16,209.31 408.99,226.29 413.83,232.21 418.66,239.33 423.49,246.98 428.32,260.45 433.15,262.60 437.98,259.61 442.82,249.24 447.65,240.54 452.48,229.85 457.31,218.95 462.14,213.13 466.97,210.67 471.81,212.56 476.64,213.19 481.47,213.97 486.30,216.96 491.13,222.67 495.96,223.35 500.80,224.66 505.63,224.66 510.46,224.66 515.29,220.78 520.12,218.85 524.95,223.35 529.79,237.45 534.62,239.33 539.45,240.64 544.28,245.15 549.11,250.23 553.95,253.59 558.78,253.48 563.61,250.65 568.44,245.73 573.27,237.45 578.10,241.27 582.94,246.46 587.77,249.66 592.60,252.85 597.43,261.76 602.26,274.97 607.09,278.42 611.93,291.94 616.76,296.45 621.59,302.84 626.42,305.31 631.25,301.48 636.08,296.45" fill="none" stroke="#f5bd10" stroke-width="3.6" stroke-linejoin="round" stroke-linecap="round"/><circle cx="46.62" cy="230.64" r="3.05" fill="#f5bd10" stroke="#dcaa0e" stroke-width="0.7"/><circle cx="51.45" cy="239.33" r="3.05" fill="#f5bd10" stroke="#dcaa0e" stroke-width="0.7"/><circle cx="56.28" cy="240.64" r="3.05" fill="#f5bd10" stroke="#dcaa0e" stroke-width="0.7"/><circle cx="61.11" cy="241.53" r="3.05" fill="#f5bd10" stroke="#dcaa0e" stroke-width="0.7"/><circle cx="65.94" cy="245.36" r="3.05" fill="#f5bd10" stroke="#dcaa0e" stroke-width="0.7"/><circle cx="70.77" cy="257.67" r="3.05" fill="#f5bd10" stroke="#dcaa0e" stroke-width="0.7"/><circle cx="75.61" cy="263.65" r="3.05" fill="#f5bd10" stroke="#dcaa0e" stroke-width="0.7"/><circle cx="80.44" cy="274.34" r="3.05" fill="#f5bd10" stroke="#dcaa0e" stroke-width="0.7"/><circle cx="85.27" cy="278.32" r="3.05" fill="#f5bd10" stroke="#dcaa0e" stroke-width="0.7"/><circle cx="90.10" cy="281.52" r="3.05" fill="#f5bd10" stroke="#dcaa0e" stroke-width="0.7"/><circle cx="94.93" cy="285.34" r="3.05" fill="#f5bd10" stroke="#dcaa0e" stroke-width="0.7"/><circle cx="99.76" cy="297.45" r="3.05" fill="#f5bd10" stroke="#dcaa0e" stroke-width="0.7"/><circle cx="104.60" cy="314.27" r="3.05" fill="#f5bd10" stroke="#dcaa0e" stroke-width="0.7"/><circle cx="109.43" cy="320.87" r="3.05" fill="#f5bd10" stroke="#dcaa0e" stroke-width="0.7"/><circle cx="114.26" cy="322.96" r="3.05" fill="#f5bd10" stroke="#dcaa0e" stroke-width="0.7"/><circle cx="119.09" cy="322.65" r="3.05" fill="#f5bd10" stroke="#dcaa0e" stroke-width="0.7"/><circle cx="123.92" cy="320.76" r="3.05" fill="#f5bd10" stroke="#dcaa0e" stroke-width="0.7"/><circle cx="128.75" cy="314.84" r="3.05" fill="#f5bd10" stroke="#dcaa0e" stroke-width="0.7"/><circle cx="133.59" cy="308.29" r="3.05" fill="#f5bd10" stroke="#dcaa0e" stroke-width="0.7"/><circle cx="138.42" cy="299.65" r="3.05" fill="#f5bd10" stroke="#dcaa0e" stroke-width="0.7"/><circle cx="143.25" cy="292.31" r="3.05" fill="#f5bd10" stroke="#dcaa0e" stroke-width="0.7"/><circle cx="148.08" cy="286.55" r="3.05" fill="#f5bd10" stroke="#dcaa0e" stroke-width="0.7"/><circle cx="152.91" cy="282.62" r="3.05" fill="#f5bd10" stroke="#dcaa0e" stroke-width="0.7"/><circle cx="157.75" cy="284.61" r="3.05" fill="#f5bd10" stroke="#dcaa0e" stroke-width="0.7"/><circle cx="162.58" cy="285.24" r="3.05" fill="#f5bd10" stroke="#dcaa0e" stroke-width="0.7"/><circle cx="167.41" cy="282.62" r="3.05" fill="#f5bd10" stroke="#dcaa0e" stroke-width="0.7"/><circle cx="172.24" cy="283.93" r="3.05" fill="#f5bd10" stroke="#dcaa0e" stroke-width="0.7"/><circle cx="177.07" cy="282.04" r="3.05" fill="#f5bd10" stroke="#dcaa0e" stroke-width="0.7"/><circle cx="181.90" cy="281.04" r="3.05" fill="#f5bd10" stroke="#dcaa0e" stroke-width="0.7"/><circle cx="186.74" cy="281.52" r="3.05" fill="#f5bd10" stroke="#dcaa0e" stroke-width="0.7"/><circle cx="191.57" cy="282.14" r="3.05" fill="#f5bd10" stroke="#dcaa0e" stroke-width="0.7"/><circle cx="196.40" cy="283.72" r="3.05" fill="#f5bd10" stroke="#dcaa0e" stroke-width="0.7"/><circle cx="201.23" cy="282.14" r="3.05" fill="#f5bd10" stroke="#dcaa0e" stroke-width="0.7"/><circle cx="206.06" cy="281.52" r="3.05" fill="#f5bd10" stroke="#dcaa0e" stroke-width="0.7"/><circle cx="210.89" cy="282.14" r="3.05" fill="#f5bd10" stroke="#dcaa0e" stroke-width="0.7"/><circle cx="215.73" cy="282.14" r="3.05" fill="#f5bd10" stroke="#dcaa0e" stroke-width="0.7"/><circle cx="220.56" cy="282.41" r="3.05" fill="#f5bd10" stroke="#dcaa0e" stroke-width="0.7"/><circle cx="225.39" cy="280.83" r="3.05" fill="#f5bd10" stroke="#dcaa0e" stroke-width="0.7"/><circle cx="230.22" cy="280.21" r="3.05" fill="#f5bd10" stroke="#dcaa0e" stroke-width="0.7"/><circle cx="235.05" cy="280.83" r="3.05" fill="#f5bd10" stroke="#dcaa0e" stroke-width="0.7"/><circle cx="239.88" cy="271.93" r="3.05" fill="#f5bd10" stroke="#dcaa0e" stroke-width="0.7"/><circle cx="244.72" cy="264.85" r="3.05" fill="#f5bd10" stroke="#dcaa0e" stroke-width="0.7"/><circle cx="249.55" cy="250.13" r="3.05" fill="#f5bd10" stroke="#dcaa0e" stroke-width="0.7"/><circle cx="254.38" cy="243.47" r="3.05" fill="#f5bd10" stroke="#dcaa0e" stroke-width="0.7"/><circle cx="259.21" cy="239.12" r="3.05" fill="#f5bd10" stroke="#dcaa0e" stroke-width="0.7"/><circle cx="264.04" cy="230.32" r="3.05" fill="#f5bd10" stroke="#dcaa0e" stroke-width="0.7"/><circle cx="268.87" cy="227.18" r="3.05" fill="#f5bd10" stroke="#dcaa0e" stroke-width="0.7"/><circle cx="273.71" cy="223.35" r="3.05" fill="#f5bd10" stroke="#dcaa0e" stroke-width="0.7"/><circle cx="278.54" cy="225.08" r="3.05" fill="#f5bd10" stroke="#dcaa0e" stroke-width="0.7"/><circle cx="283.37" cy="223.93" r="3.05" fill="#f5bd10" stroke="#dcaa0e" stroke-width="0.7"/><circle cx="288.20" cy="220.78" r="3.05" fill="#f5bd10" stroke="#dcaa0e" stroke-width="0.7"/><circle cx="293.03" cy="216.28" r="3.05" fill="#f5bd10" stroke="#dcaa0e" stroke-width="0.7"/><circle cx="297.86" cy="211.14" r="3.05" fill="#f5bd10" stroke="#dcaa0e" stroke-width="0.7"/><circle cx="302.70" cy="193.27" r="3.05" fill="#f5bd10" stroke="#dcaa0e" stroke-width="0.7"/><circle cx="307.53" cy="188.77" r="3.05" fill="#f5bd10" stroke="#dcaa0e" stroke-width="0.7"/><circle cx="312.36" cy="186.20" r="3.05" fill="#f5bd10" stroke="#dcaa0e" stroke-width="0.7"/><circle cx="317.19" cy="186.20" r="3.05" fill="#f5bd10" stroke="#dcaa0e" stroke-width="0.7"/><circle cx="322.02" cy="188.09" r="3.05" fill="#f5bd10" stroke="#dcaa0e" stroke-width="0.7"/><circle cx="326.85" cy="191.44" r="3.05" fill="#f5bd10" stroke="#dcaa0e" stroke-width="0.7"/><circle cx="331.69" cy="198.36" r="3.05" fill="#f5bd10" stroke="#dcaa0e" stroke-width="0.7"/><circle cx="336.52" cy="199.67" r="3.05" fill="#f5bd10" stroke="#dcaa0e" stroke-width="0.7"/><circle cx="341.35" cy="202.86" r="3.05" fill="#f5bd10" stroke="#dcaa0e" stroke-width="0.7"/><circle cx="346.18" cy="206.64" r="3.05" fill="#f5bd10" stroke="#dcaa0e" stroke-width="0.7"/><circle cx="351.01" cy="209.26" r="3.05" fill="#f5bd10" stroke="#dcaa0e" stroke-width="0.7"/><circle cx="355.85" cy="210.57" r="3.05" fill="#f5bd10" stroke="#dcaa0e" stroke-width="0.7"/><circle cx="360.68" cy="207.95" r="3.05" fill="#f5bd10" stroke="#dcaa0e" stroke-width="0.7"/><circle cx="365.51" cy="208.57" r="3.05" fill="#f5bd10" stroke="#dcaa0e" stroke-width="0.7"/><circle cx="370.34" cy="201.55" r="3.05" fill="#f5bd10" stroke="#dcaa0e" stroke-width="0.7"/><circle cx="375.17" cy="187.46" r="3.05" fill="#f5bd10" stroke="#dcaa0e" stroke-width="0.7"/><circle cx="380.00" cy="177.87" r="3.05" fill="#f5bd10" stroke="#dcaa0e" stroke-width="0.7"/><circle cx="384.84" cy="178.44" r="3.05" fill="#f5bd10" stroke="#dcaa0e" stroke-width="0.7"/><circle cx="389.67" cy="180.38" r="3.05" fill="#f5bd10" stroke="#dcaa0e" stroke-width="0.7"/><circle cx="394.50" cy="187.46" r="3.05" fill="#f5bd10" stroke="#dcaa0e" stroke-width="0.7"/><circle cx="399.33" cy="196.68" r="3.05" fill="#f5bd10" stroke="#dcaa0e" stroke-width="0.7"/><circle cx="404.16" cy="209.31" r="3.05" fill="#f5bd10" stroke="#dcaa0e" stroke-width="0.7"/><circle cx="408.99" cy="226.29" r="3.05" fill="#f5bd10" stroke="#dcaa0e" stroke-width="0.7"/><circle cx="413.83" cy="232.21" r="3.05" fill="#f5bd10" stroke="#dcaa0e" stroke-width="0.7"/><circle cx="418.66" cy="239.33" r="3.05" fill="#f5bd10" stroke="#dcaa0e" stroke-width="0.7"/><circle cx="423.49" cy="246.98" r="3.05" fill="#f5bd10" stroke="#dcaa0e" stroke-width="0.7"/><circle cx="428.32" cy="260.45" r="3.05" fill="#f5bd10" stroke="#dcaa0e" stroke-width="0.7"/><circle cx="433.15" cy="262.60" r="3.05" fill="#f5bd10" stroke="#dcaa0e" stroke-width="0.7"/><circle cx="437.98" cy="259.61" r="3.05" fill="#f5bd10" stroke="#dcaa0e" stroke-width="0.7"/><circle cx="442.82" cy="249.24" r="3.05" fill="#f5bd10" stroke="#dcaa0e" stroke-width="0.7"/><circle cx="447.65" cy="240.54" r="3.05" fill="#f5bd10" stroke="#dcaa0e" stroke-width="0.7"/><circle cx="452.48" cy="229.85" r="3.05" fill="#f5bd10" stroke="#dcaa0e" stroke-width="0.7"/><circle cx="457.31" cy="218.95" r="3.05" fill="#f5bd10" stroke="#dcaa0e" stroke-width="0.7"/><circle cx="462.14" cy="213.13" r="3.05" fill="#f5bd10" stroke="#dcaa0e" stroke-width="0.7"/><circle cx="466.97" cy="210.67" r="3.05" fill="#f5bd10" stroke="#dcaa0e" stroke-width="0.7"/><circle cx="471.81" cy="212.56" r="3.05" fill="#f5bd10" stroke="#dcaa0e" stroke-width="0.7"/><circle cx="476.64" cy="213.19" r="3.05" fill="#f5bd10" stroke="#dcaa0e" stroke-width="0.7"/><circle cx="481.47" cy="213.97" r="3.05" fill="#f5bd10" stroke="#dcaa0e" stroke-width="0.7"/><circle cx="486.30" cy="216.96" r="3.05" fill="#f5bd10" stroke="#dcaa0e" stroke-width="0.7"/><circle cx="491.13" cy="222.67" r="3.05" fill="#f5bd10" stroke="#dcaa0e" stroke-width="0.7"/><circle cx="495.96" cy="223.35" r="3.05" fill="#f5bd10" stroke="#dcaa0e" stroke-width="0.7"/><circle cx="500.80" cy="224.66" r="3.05" fill="#f5bd10" stroke="#dcaa0e" stroke-width="0.7"/><circle cx="505.63" cy="224.66" r="3.05" fill="#f5bd10" stroke="#dcaa0e" stroke-width="0.7"/><circle cx="510.46" cy="224.66" r="3.05" fill="#f5bd10" stroke="#dcaa0e" stroke-width="0.7"/><circle cx="515.29" cy="220.78" r="3.05" fill="#f5bd10" stroke="#dcaa0e" stroke-width="0.7"/><circle cx="520.12" cy="218.85" r="3.05" fill="#f5bd10" stroke="#dcaa0e" stroke-width="0.7"/><circle cx="524.95" cy="223.35" r="3.05" fill="#f5bd10" stroke="#dcaa0e" stroke-width="0.7"/><circle cx="529.79" cy="237.45" r="3.05" fill="#f5bd10" stroke="#dcaa0e" stroke-width="0.7"/><circle cx="534.62" cy="239.33" r="3.05" fill="#f5bd10" stroke="#dcaa0e" stroke-width="0.7"/><circle cx="539.45" cy="240.64" r="3.05" fill="#f5bd10" stroke="#dcaa0e" stroke-width="0.7"/><circle cx="544.28" cy="245.15" r="3.05" fill="#f5bd10" stroke="#dcaa0e" stroke-width="0.7"/><circle cx="549.11" cy="250.23" r="3.05" fill="#f5bd10" stroke="#dcaa0e" stroke-width="0.7"/><circle cx="553.95" cy="253.59" r="3.05" fill="#f5bd10" stroke="#dcaa0e" stroke-width="0.7"/><circle cx="558.78" cy="253.48" r="3.05" fill="#f5bd10" stroke="#dcaa0e" stroke-width="0.7"/><circle cx="563.61" cy="250.65" r="3.05" fill="#f5bd10" stroke="#dcaa0e" stroke-width="0.7"/><circle cx="568.44" cy="245.73" r="3.05" fill="#f5bd10" stroke="#dcaa0e" stroke-width="0.7"/><circle cx="573.27" cy="237.45" r="3.05" fill="#f5bd10" stroke="#dcaa0e" stroke-width="0.7"/><circle cx="578.10" cy="241.27" r="3.05" fill="#f5bd10" stroke="#dcaa0e" stroke-width="0.7"/><circle cx="582.94" cy="246.46" r="3.05" fill="#f5bd10" stroke="#dcaa0e" stroke-width="0.7"/><circle cx="587.77" cy="249.66" r="3.05" fill="#f5bd10" stroke="#dcaa0e" stroke-width="0.7"/><circle cx="592.60" cy="252.85" r="3.05" fill="#f5bd10" stroke="#dcaa0e" stroke-width="0.7"/><circle cx="597.43" cy="261.76" r="3.05" fill="#f5bd10" stroke="#dcaa0e" stroke-width="0.7"/><circle cx="602.26" cy="274.97" r="3.05" fill="#f5bd10" stroke="#dcaa0e" stroke-width="0.7"/><circle cx="607.09" cy="278.42" r="3.05" fill="#f5bd10" stroke="#dcaa0e" stroke-width="0.7"/><circle cx="611.93" cy="291.94" r="3.05" fill="#f5bd10" stroke="#dcaa0e" stroke-width="0.7"/><circle cx="616.76" cy="296.45" r="3.05" fill="#f5bd10" stroke="#dcaa0e" stroke-width="0.7"/><circle cx="621.59" cy="302.84" r="3.05" fill="#f5bd10" stroke="#dcaa0e" stroke-width="0.7"/><circle cx="626.42" cy="305.31" r="3.05" fill="#f5bd10" stroke="#dcaa0e" stroke-width="0.7"/><circle cx="631.25" cy="301.48" r="3.05" fill="#f5bd10" stroke="#dcaa0e" stroke-width="0.7"/><circle cx="636.08" cy="296.45" r="3.05" fill="#f5bd10" stroke="#dcaa0e" stroke-width="0.7"/><polyline points="46.62,124.47 51.45,127.41 56.28,130.69 61.11,129.38 65.94,129.71 70.77,122.01 75.61,127.41 80.44,136.09 85.27,141.50 90.10,142.48 94.93,152.47 99.76,164.91 104.60,183.91 109.43,173.43 114.26,176.78 119.09,181.04 123.92,160.57 128.75,146.49 133.59,139.94 138.42,138.38 143.25,133.47 148.08,123.32 152.91,119.06 157.75,114.89 162.58,118.08 167.41,120.37 172.24,125.78 177.07,143.05 181.90,146.08 186.74,148.87 191.57,146.98 196.40,151.49 201.23,156.48 206.06,160.00 210.89,164.91 215.73,167.37 220.56,170.56 225.39,169.91 230.22,172.44 235.05,181.45 239.88,180.14 244.72,180.14 249.55,180.14 254.38,182.43 259.21,180.80 264.04,179.49 268.87,178.83 273.71,178.26 278.54,176.95 283.37,175.72 288.20,174.41 293.03,173.10 297.86,171.87 302.70,170.64 307.53,169.42 312.36,169.01 317.19,166.55 322.02,165.32 326.85,164.50 331.69,163.68 336.52,162.05 341.35,161.23 346.18,160.82 351.01,160.00 355.85,159.18 360.68,157.22 365.51,154.68 370.34,153.37 375.17,152.06 380.00,150.18 384.84,148.29 389.67,146.98 394.50,145.26 399.33,143.79 404.16,143.05 408.99,141.74 413.83,141.17 418.66,138.88 423.49,140.60 428.32,141.74 433.15,144.36 437.98,143.79 442.82,140.60 447.65,139.29 452.48,138.96 457.31,138.06 462.14,137.40 466.97,137.07 471.81,136.75 476.64,136.75 481.47,136.75 486.30,137.65 491.13,138.30 495.96,138.30 500.80,138.30 505.63,138.30 510.46,138.30 515.29,137.89 520.12,138.63 524.95,140.43 529.79,139.69 534.62,140.92 539.45,141.74 544.28,142.64 549.11,143.87 553.95,145.18 558.78,144.28 563.61,146.33 568.44,144.77 573.27,145.92 578.10,145.51 582.94,145.02 587.77,147.31 592.60,145.75 597.43,146.33 602.26,146.98 607.09,146.98 611.93,148.29 616.76,149.27 621.59,149.03 626.42,149.03 631.25,149.27 636.08,147.64" fill="none" stroke="#25566f" stroke-width="3.6" stroke-linejoin="round" stroke-linecap="round"/><circle cx="46.62" cy="124.47" r="3.05" fill="#25566f" stroke="#214d63" stroke-width="0.7"/><circle cx="51.45" cy="127.41" r="3.05" fill="#25566f" stroke="#214d63" stroke-width="0.7"/><circle cx="56.28" cy="130.69" r="3.05" fill="#25566f" stroke="#214d63" stroke-width="0.7"/><circle cx="61.11" cy="129.38" r="3.05" fill="#25566f" stroke="#214d63" stroke-width="0.7"/><circle cx="65.94" cy="129.71" r="3.05" fill="#25566f" stroke="#214d63" stroke-width="0.7"/><circle cx="70.77" cy="122.01" r="3.05" fill="#25566f" stroke="#214d63" stroke-width="0.7"/><circle cx="75.61" cy="127.41" r="3.05" fill="#25566f" stroke="#214d63" stroke-width="0.7"/><circle cx="80.44" cy="136.09" r="3.05" fill="#25566f" stroke="#214d63" stroke-width="0.7"/><circle cx="85.27" cy="141.50" r="3.05" fill="#25566f" stroke="#214d63" stroke-width="0.7"/><circle cx="90.10" cy="142.48" r="3.05" fill="#25566f" stroke="#214d63" stroke-width="0.7"/><circle cx="94.93" cy="152.47" r="3.05" fill="#25566f" stroke="#214d63" stroke-width="0.7"/><circle cx="99.76" cy="164.91" r="3.05" fill="#25566f" stroke="#214d63" stroke-width="0.7"/><circle cx="104.60" cy="183.91" r="3.05" fill="#25566f" stroke="#214d63" stroke-width="0.7"/><circle cx="109.43" cy="173.43" r="3.05" fill="#25566f" stroke="#214d63" stroke-width="0.7"/><circle cx="114.26" cy="176.78" r="3.05" fill="#25566f" stroke="#214d63" stroke-width="0.7"/><circle cx="119.09" cy="181.04" r="3.05" fill="#25566f" stroke="#214d63" stroke-width="0.7"/><circle cx="123.92" cy="160.57" r="3.05" fill="#25566f" stroke="#214d63" stroke-width="0.7"/><circle cx="128.75" cy="146.49" r="3.05" fill="#25566f" stroke="#214d63" stroke-width="0.7"/><circle cx="133.59" cy="139.94" r="3.05" fill="#25566f" stroke="#214d63" stroke-width="0.7"/><circle cx="138.42" cy="138.38" r="3.05" fill="#25566f" stroke="#214d63" stroke-width="0.7"/><circle cx="143.25" cy="133.47" r="3.05" fill="#25566f" stroke="#214d63" stroke-width="0.7"/><circle cx="148.08" cy="123.32" r="3.05" fill="#25566f" stroke="#214d63" stroke-width="0.7"/><circle cx="152.91" cy="119.06" r="3.05" fill="#25566f" stroke="#214d63" stroke-width="0.7"/><circle cx="157.75" cy="114.89" r="3.05" fill="#25566f" stroke="#214d63" stroke-width="0.7"/><circle cx="162.58" cy="118.08" r="3.05" fill="#25566f" stroke="#214d63" stroke-width="0.7"/><circle cx="167.41" cy="120.37" r="3.05" fill="#25566f" stroke="#214d63" stroke-width="0.7"/><circle cx="172.24" cy="125.78" r="3.05" fill="#25566f" stroke="#214d63" stroke-width="0.7"/><circle cx="177.07" cy="143.05" r="3.05" fill="#25566f" stroke="#214d63" stroke-width="0.7"/><circle cx="181.90" cy="146.08" r="3.05" fill="#25566f" stroke="#214d63" stroke-width="0.7"/><circle cx="186.74" cy="148.87" r="3.05" fill="#25566f" stroke="#214d63" stroke-width="0.7"/><circle cx="191.57" cy="146.98" r="3.05" fill="#25566f" stroke="#214d63" stroke-width="0.7"/><circle cx="196.40" cy="151.49" r="3.05" fill="#25566f" stroke="#214d63" stroke-width="0.7"/><circle cx="201.23" cy="156.48" r="3.05" fill="#25566f" stroke="#214d63" stroke-width="0.7"/><circle cx="206.06" cy="160.00" r="3.05" fill="#25566f" stroke="#214d63" stroke-width="0.7"/><circle cx="210.89" cy="164.91" r="3.05" fill="#25566f" stroke="#214d63" stroke-width="0.7"/><circle cx="215.73" cy="167.37" r="3.05" fill="#25566f" stroke="#214d63" stroke-width="0.7"/><circle cx="220.56" cy="170.56" r="3.05" fill="#25566f" stroke="#214d63" stroke-width="0.7"/><circle cx="225.39" cy="169.91" r="3.05" fill="#25566f" stroke="#214d63" stroke-width="0.7"/><circle cx="230.22" cy="172.44" r="3.05" fill="#25566f" stroke="#214d63" stroke-width="0.7"/><circle cx="235.05" cy="181.45" r="3.05" fill="#25566f" stroke="#214d63" stroke-width="0.7"/><circle cx="239.88" cy="180.14" r="3.05" fill="#25566f" stroke="#214d63" stroke-width="0.7"/><circle cx="244.72" cy="180.14" r="3.05" fill="#25566f" stroke="#214d63" stroke-width="0.7"/><circle cx="249.55" cy="180.14" r="3.05" fill="#25566f" stroke="#214d63" stroke-width="0.7"/><circle cx="254.38" cy="182.43" r="3.05" fill="#25566f" stroke="#214d63" stroke-width="0.7"/><circle cx="259.21" cy="180.80" r="3.05" fill="#25566f" stroke="#214d63" stroke-width="0.7"/><circle cx="264.04" cy="179.49" r="3.05" fill="#25566f" stroke="#214d63" stroke-width="0.7"/><circle cx="268.87" cy="178.83" r="3.05" fill="#25566f" stroke="#214d63" stroke-width="0.7"/><circle cx="273.71" cy="178.26" r="3.05" fill="#25566f" stroke="#214d63" stroke-width="0.7"/><circle cx="278.54" cy="176.95" r="3.05" fill="#25566f" stroke="#214d63" stroke-width="0.7"/><circle cx="283.37" cy="175.72" r="3.05" fill="#25566f" stroke="#214d63" stroke-width="0.7"/><circle cx="288.20" cy="174.41" r="3.05" fill="#25566f" stroke="#214d63" stroke-width="0.7"/><circle cx="293.03" cy="173.10" r="3.05" fill="#25566f" stroke="#214d63" stroke-width="0.7"/><circle cx="297.86" cy="171.87" r="3.05" fill="#25566f" stroke="#214d63" stroke-width="0.7"/><circle cx="302.70" cy="170.64" r="3.05" fill="#25566f" stroke="#214d63" stroke-width="0.7"/><circle cx="307.53" cy="169.42" r="3.05" fill="#25566f" stroke="#214d63" stroke-width="0.7"/><circle cx="312.36" cy="169.01" r="3.05" fill="#25566f" stroke="#214d63" stroke-width="0.7"/><circle cx="317.19" cy="166.55" r="3.05" fill="#25566f" stroke="#214d63" stroke-width="0.7"/><circle cx="322.02" cy="165.32" r="3.05" fill="#25566f" stroke="#214d63" stroke-width="0.7"/><circle cx="326.85" cy="164.50" r="3.05" fill="#25566f" stroke="#214d63" stroke-width="0.7"/><circle cx="331.69" cy="163.68" r="3.05" fill="#25566f" stroke="#214d63" stroke-width="0.7"/><circle cx="336.52" cy="162.05" r="3.05" fill="#25566f" stroke="#214d63" stroke-width="0.7"/><circle cx="341.35" cy="161.23" r="3.05" fill="#25566f" stroke="#214d63" stroke-width="0.7"/><circle cx="346.18" cy="160.82" r="3.05" fill="#25566f" stroke="#214d63" stroke-width="0.7"/><circle cx="351.01" cy="160.00" r="3.05" fill="#25566f" stroke="#214d63" stroke-width="0.7"/><circle cx="355.85" cy="159.18" r="3.05" fill="#25566f" stroke="#214d63" stroke-width="0.7"/><circle cx="360.68" cy="157.22" r="3.05" fill="#25566f" stroke="#214d63" stroke-width="0.7"/><circle cx="365.51" cy="154.68" r="3.05" fill="#25566f" stroke="#214d63" stroke-width="0.7"/><circle cx="370.34" cy="153.37" r="3.05" fill="#25566f" stroke="#214d63" stroke-width="0.7"/><circle cx="375.17" cy="152.06" r="3.05" fill="#25566f" stroke="#214d63" stroke-width="0.7"/><circle cx="380.00" cy="150.18" r="3.05" fill="#25566f" stroke="#214d63" stroke-width="0.7"/><circle cx="384.84" cy="148.29" r="3.05" fill="#25566f" stroke="#214d63" stroke-width="0.7"/><circle cx="389.67" cy="146.98" r="3.05" fill="#25566f" stroke="#214d63" stroke-width="0.7"/><circle cx="394.50" cy="145.26" r="3.05" fill="#25566f" stroke="#214d63" stroke-width="0.7"/><circle cx="399.33" cy="143.79" r="3.05" fill="#25566f" stroke="#214d63" stroke-width="0.7"/><circle cx="404.16" cy="143.05" r="3.05" fill="#25566f" stroke="#214d63" stroke-width="0.7"/><circle cx="408.99" cy="141.74" r="3.05" fill="#25566f" stroke="#214d63" stroke-width="0.7"/><circle cx="413.83" cy="141.17" r="3.05" fill="#25566f" stroke="#214d63" stroke-width="0.7"/><circle cx="418.66" cy="138.88" r="3.05" fill="#25566f" stroke="#214d63" stroke-width="0.7"/><circle cx="423.49" cy="140.60" r="3.05" fill="#25566f" stroke="#214d63" stroke-width="0.7"/><circle cx="428.32" cy="141.74" r="3.05" fill="#25566f" stroke="#214d63" stroke-width="0.7"/><circle cx="433.15" cy="144.36" r="3.05" fill="#25566f" stroke="#214d63" stroke-width="0.7"/><circle cx="437.98" cy="143.79" r="3.05" fill="#25566f" stroke="#214d63" stroke-width="0.7"/><circle cx="442.82" cy="140.60" r="3.05" fill="#25566f" stroke="#214d63" stroke-width="0.7"/><circle cx="447.65" cy="139.29" r="3.05" fill="#25566f" stroke="#214d63" stroke-width="0.7"/><circle cx="452.48" cy="138.96" r="3.05" fill="#25566f" stroke="#214d63" stroke-width="0.7"/><circle cx="457.31" cy="138.06" r="3.05" fill="#25566f" stroke="#214d63" stroke-width="0.7"/><circle cx="462.14" cy="137.40" r="3.05" fill="#25566f" stroke="#214d63" stroke-width="0.7"/><circle cx="466.97" cy="137.07" r="3.05" fill="#25566f" stroke="#214d63" stroke-width="0.7"/><circle cx="471.81" cy="136.75" r="3.05" fill="#25566f" stroke="#214d63" stroke-width="0.7"/><circle cx="476.64" cy="136.75" r="3.05" fill="#25566f" stroke="#214d63" stroke-width="0.7"/><circle cx="481.47" cy="136.75" r="3.05" fill="#25566f" stroke="#214d63" stroke-width="0.7"/><circle cx="486.30" cy="137.65" r="3.05" fill="#25566f" stroke="#214d63" stroke-width="0.7"/><circle cx="491.13" cy="138.30" r="3.05" fill="#25566f" stroke="#214d63" stroke-width="0.7"/><circle cx="495.96" cy="138.30" r="3.05" fill="#25566f" stroke="#214d63" stroke-width="0.7"/><circle cx="500.80" cy="138.30" r="3.05" fill="#25566f" stroke="#214d63" stroke-width="0.7"/><circle cx="505.63" cy="138.30" r="3.05" fill="#25566f" stroke="#214d63" stroke-width="0.7"/><circle cx="510.46" cy="138.30" r="3.05" fill="#25566f" stroke="#214d63" stroke-width="0.7"/><circle cx="515.29" cy="137.89" r="3.05" fill="#25566f" stroke="#214d63" stroke-width="0.7"/><circle cx="520.12" cy="138.63" r="3.05" fill="#25566f" stroke="#214d63" stroke-width="0.7"/><circle cx="524.95" cy="140.43" r="3.05" fill="#25566f" stroke="#214d63" stroke-width="0.7"/><circle cx="529.79" cy="139.69" r="3.05" fill="#25566f" stroke="#214d63" stroke-width="0.7"/><circle cx="534.62" cy="140.92" r="3.05" fill="#25566f" stroke="#214d63" stroke-width="0.7"/><circle cx="539.45" cy="141.74" r="3.05" fill="#25566f" stroke="#214d63" stroke-width="0.7"/><circle cx="544.28" cy="142.64" r="3.05" fill="#25566f" stroke="#214d63" stroke-width="0.7"/><circle cx="549.11" cy="143.87" r="3.05" fill="#25566f" stroke="#214d63" stroke-width="0.7"/><circle cx="553.95" cy="145.18" r="3.05" fill="#25566f" stroke="#214d63" stroke-width="0.7"/><circle cx="558.78" cy="144.28" r="3.05" fill="#25566f" stroke="#214d63" stroke-width="0.7"/><circle cx="563.61" cy="146.33" r="3.05" fill="#25566f" stroke="#214d63" stroke-width="0.7"/><circle cx="568.44" cy="144.77" r="3.05" fill="#25566f" stroke="#214d63" stroke-width="0.7"/><circle cx="573.27" cy="145.92" r="3.05" fill="#25566f" stroke="#214d63" stroke-width="0.7"/><circle cx="578.10" cy="145.51" r="3.05" fill="#25566f" stroke="#214d63" stroke-width="0.7"/><circle cx="582.94" cy="145.02" r="3.05" fill="#25566f" stroke="#214d63" stroke-width="0.7"/><circle cx="587.77" cy="147.31" r="3.05" fill="#25566f" stroke="#214d63" stroke-width="0.7"/><circle cx="592.60" cy="145.75" r="3.05" fill="#25566f" stroke="#214d63" stroke-width="0.7"/><circle cx="597.43" cy="146.33" r="3.05" fill="#25566f" stroke="#214d63" stroke-width="0.7"/><circle cx="602.26" cy="146.98" r="3.05" fill="#25566f" stroke="#214d63" stroke-width="0.7"/><circle cx="607.09" cy="146.98" r="3.05" fill="#25566f" stroke="#214d63" stroke-width="0.7"/><circle cx="611.93" cy="148.29" r="3.05" fill="#25566f" stroke="#214d63" stroke-width="0.7"/><circle cx="616.76" cy="149.27" r="3.05" fill="#25566f" stroke="#214d63" stroke-width="0.7"/><circle cx="621.59" cy="149.03" r="3.05" fill="#25566f" stroke="#214d63" stroke-width="0.7"/><circle cx="626.42" cy="149.03" r="3.05" fill="#25566f" stroke="#214d63" stroke-width="0.7"/><circle cx="631.25" cy="149.27" r="3.05" fill="#25566f" stroke="#214d63" stroke-width="0.7"/><circle cx="636.08" cy="147.64" r="3.05" fill="#25566f" stroke="#214d63" stroke-width="0.7"/><g transform="translate(0,0)"><defs><mask id="wmm1" maskUnits="userSpaceOnUse" x="100" y="140" width="230" height="100"><rect x="100" y="140" width="230" height="100" fill="white"/><circle cx="150.6" cy="189.7" r="24.8" fill="black"/><text x="186" y="198.8" font-size="34" font-weight="900" fill="black" stroke="black" stroke-width="1.0" letter-spacing="3">大畜牧</text><text x="186" y="213.4" font-size="11.5" fill="black" letter-spacing="2.0">www.dxumu.com</text></mask><mask id="wmh1" maskUnits="userSpaceOnUse" x="100" y="140" width="230" height="100"><rect x="100" y="140" width="230" height="100" fill="white"/><circle cx="145.7" cy="184.29999999999998" r="3.3" fill="black"/></mask></defs><rect x="112.5" y="151.9" width="197.3" height="77.7" fill="#d6c42a" fill-opacity="0.27" mask="url(#wmm1)"/><circle cx="150.6" cy="189.7" r="24" fill="#cdcdcd" fill-opacity="0.3" stroke="#717171" stroke-opacity="0.42" stroke-width="1.8"/><circle cx="150.9" cy="189.7" r="9.9" fill="#6b6b6b" fill-opacity="0.33"/><circle cx="146.1" cy="184.0" r="2.9" fill="#f1f1f1" fill-opacity="0.9"/><g opacity="0.4"><text x="186" y="198.8" font-size="34" font-weight="900" fill="#767676" stroke="#767676" stroke-width="1.0" letter-spacing="3">大畜牧</text></g><g opacity="0.4"><text x="186" y="213.4" font-size="11.5" fill="#767676" stroke="#767676" stroke-width="0.5" letter-spacing="2.0">www.dxumu.com</text></g></g><g transform="translate(253.1,-1.9)"><defs><mask id="wmm2" maskUnits="userSpaceOnUse" x="100" y="140" width="230" height="100"><rect x="100" y="140" width="230" height="100" fill="white"/><circle cx="150.6" cy="189.7" r="24.8" fill="black"/><text x="186" y="200.20000000000002" font-size="34" font-weight="900" fill="black" stroke="black" stroke-width="1.0" letter-spacing="3">大畜牧</text><text x="186" y="214.8" font-size="11.5" fill="black" letter-spacing="2.0">www.dxumu.com</text></mask><mask id="wmh2" maskUnits="userSpaceOnUse" x="100" y="140" width="230" height="100"><rect x="100" y="140" width="230" height="100" fill="white"/><circle cx="145.7" cy="184.29999999999998" r="3.3" fill="black"/></mask></defs><rect x="112.5" y="151.9" width="197.3" height="77.7" fill="#d6c42a" fill-opacity="0.27" mask="url(#wmm2)"/><circle cx="150.6" cy="189.7" r="24" fill="#cdcdcd" fill-opacity="0.3" stroke="#717171" stroke-opacity="0.42" stroke-width="1.8"/><circle cx="150.9" cy="189.7" r="9.9" fill="#6b6b6b" fill-opacity="0.33"/><circle cx="146.1" cy="184.0" r="2.9" fill="#f1f1f1" fill-opacity="0.9"/><g opacity="0.4"><text x="186" y="200.20000000000002" font-size="34" font-weight="900" fill="#767676" stroke="#767676" stroke-width="1.0" letter-spacing="3">大畜牧</text></g><g opacity="0.4"><text x="186" y="214.8" font-size="11.5" fill="#767676" stroke="#767676" stroke-width="0.5" letter-spacing="2.0">www.dxumu.com</text></g></g><text x="332" y="35.3" text-anchor="middle" font-size="18.5" textLength="148" lengthAdjust="spacingAndGlyphs" font-weight="bold" fill="#595959">生猪产品价格走势</text><line x1="96.9" x2="124.9" y1="67.5" y2="67.5" stroke="#3f88b8" stroke-width="3.6"/><circle cx="110.9" cy="67.5" r="3.4" fill="#3f88b8"/><text x="127.4" y="72.0" font-size="12.5" fill="#595959">生猪<tspan dx='-3.6'>（</tspan><tspan dx='0.6'>元</tspan>/公斤<tspan dx='-1.6'>）</tspan></text><line x1="229.8" x2="257.8" y1="67.5" y2="67.5" stroke="#ea9010" stroke-width="3.6"/><circle cx="243.8" cy="67.5" r="3.4" fill="#ea9010"/><text x="260.3" y="72.0" font-size="12.5" fill="#595959">猪肉<tspan dx='-3.6'>（</tspan><tspan dx='0.6'>元</tspan>/公斤<tspan dx='-1.6'>）</tspan></text><line x1="363.3" x2="391.3" y1="67.5" y2="67.5" stroke="#f5bd10" stroke-width="3.6"/><circle cx="377.3" cy="67.5" r="3.4" fill="#f5bd10"/><text x="393.8" y="72.0" font-size="12.5" fill="#595959">仔猪<tspan dx='-3.6'>（</tspan><tspan dx='0.6'>元</tspan>/公斤<tspan dx='-1.6'>）</tspan></text><line x1="495.8" x2="523.8" y1="67.5" y2="67.5" stroke="#25566f" stroke-width="3.6"/><circle cx="509.8" cy="67.5" r="3.4" fill="#25566f"/><text x="526.3" y="72.0" font-size="12.5" fill="#595959">二元母猪<tspan dx='-5.3'>（</tspan><tspan dx='-1.1'>元</tspan>/头）<tspan dx='-2.5'>右</tspan></text><text x="647" y="424.9" font-size="12" fill="#404040">数据来源:</text><text x="647" y="440.4" font-size="12" fill="#404040">慧通数据</text></svg>
</body></html>
